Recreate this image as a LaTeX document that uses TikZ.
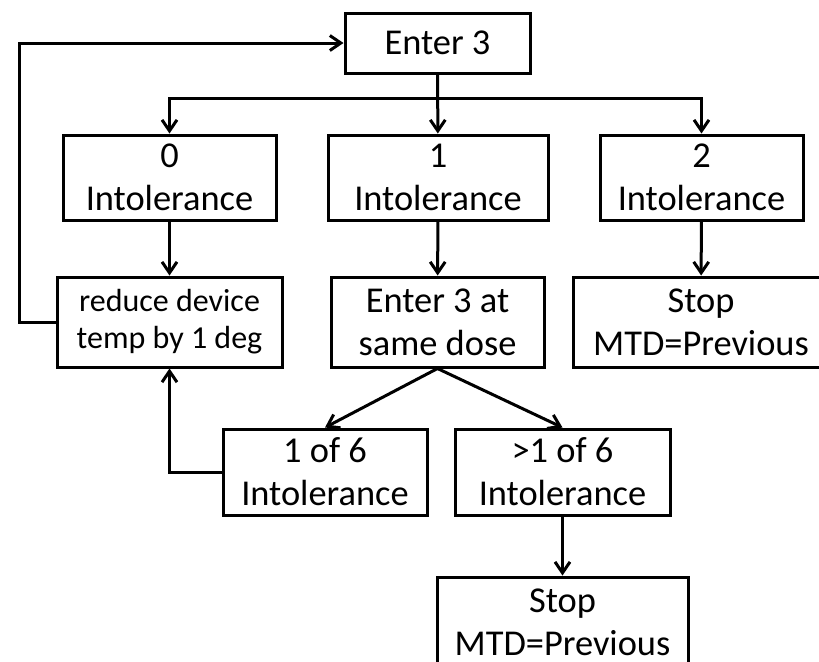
\documentclass[tikz,border=0pt]{standalone}
\usepackage{fontspec}
\setmainfont{Carlito}
\usetikzlibrary{arrows.meta}

\begin{document}
\begin{tikzpicture}[x=0.5pt,y=-0.5pt]
\clip (0,0) rectangle (819,661);
\begin{scope}[every node/.style={draw,line width=1.5pt,inner sep=0pt,align=center,
              font=\fontsize{18.2}{21.5}\selectfont}]
    \node[minimum width=92.5pt,minimum height=30pt] (enter) at (437.5,43) {Enter 3};
    \node[minimum width=106.5pt,minimum height=42.5pt] (zero) at (169.5,177.5) {0\\Intolerance};
    \node[minimum width=110pt,minimum height=42.5pt] (one) at (438,177.5) {1\\Intolerance};
    \node[minimum width=101.5pt,minimum height=42.5pt] (two) at (701.5,177.5) {2\\Intolerance};
    \node[minimum width=112.5pt,minimum height=45pt,
          font=\fontsize{16}{18.5}\selectfont] (reduce) at (169.5,322) {reduce device\\temp by 1 deg};
    \node[minimum width=106.5pt,minimum height=45pt] (again) at (437.5,322) {Enter 3 at\\same dose};
    \node[minimum width=128pt,minimum height=45pt] (stopa) at (701,322) {Stop\\MTD=Previous};
    \node[minimum width=102pt,minimum height=43pt] (oneofsix) at (325,472) {1 of 6\\Intolerance};
    \node[minimum width=107.5pt,minimum height=43pt] (morethan) at (562.5,472) {>1 of 6\\Intolerance};
    \node[minimum width=125.5pt,minimum height=45pt] (stopb) at (562.5,622) {Stop\\MTD=Previous};
\end{scope}

\coordinate (split) at (437.5,98);

\begin{scope}[>={Straight Barb[length=5.5pt,width=7.5pt]},
              every edge/.style={draw=black, line width=1.5pt}]
    \path [->] (enter) edge (one);
    \path [->] (zero) edge (reduce);
    \path [->] (one) edge (again);
    \path [->] (two) edge (stopa);
    \path [->] (again.south) edge (oneofsix.north);
    \path [->] (again.south) edge (morethan.north);
    \path [->] (morethan) edge (stopb);
    \draw [->, line width=1.5pt] (split) -| (zero.north);
    \draw [->, line width=1.5pt] (split) -| (two.north);
    \draw [->, line width=1.5pt] (reduce.west) -- ++(-36,0) |- (enter.west);
    \draw [->, line width=1.5pt] (oneofsix.west) -| (reduce.south);
\end{scope}
\end{tikzpicture}
\end{document}
